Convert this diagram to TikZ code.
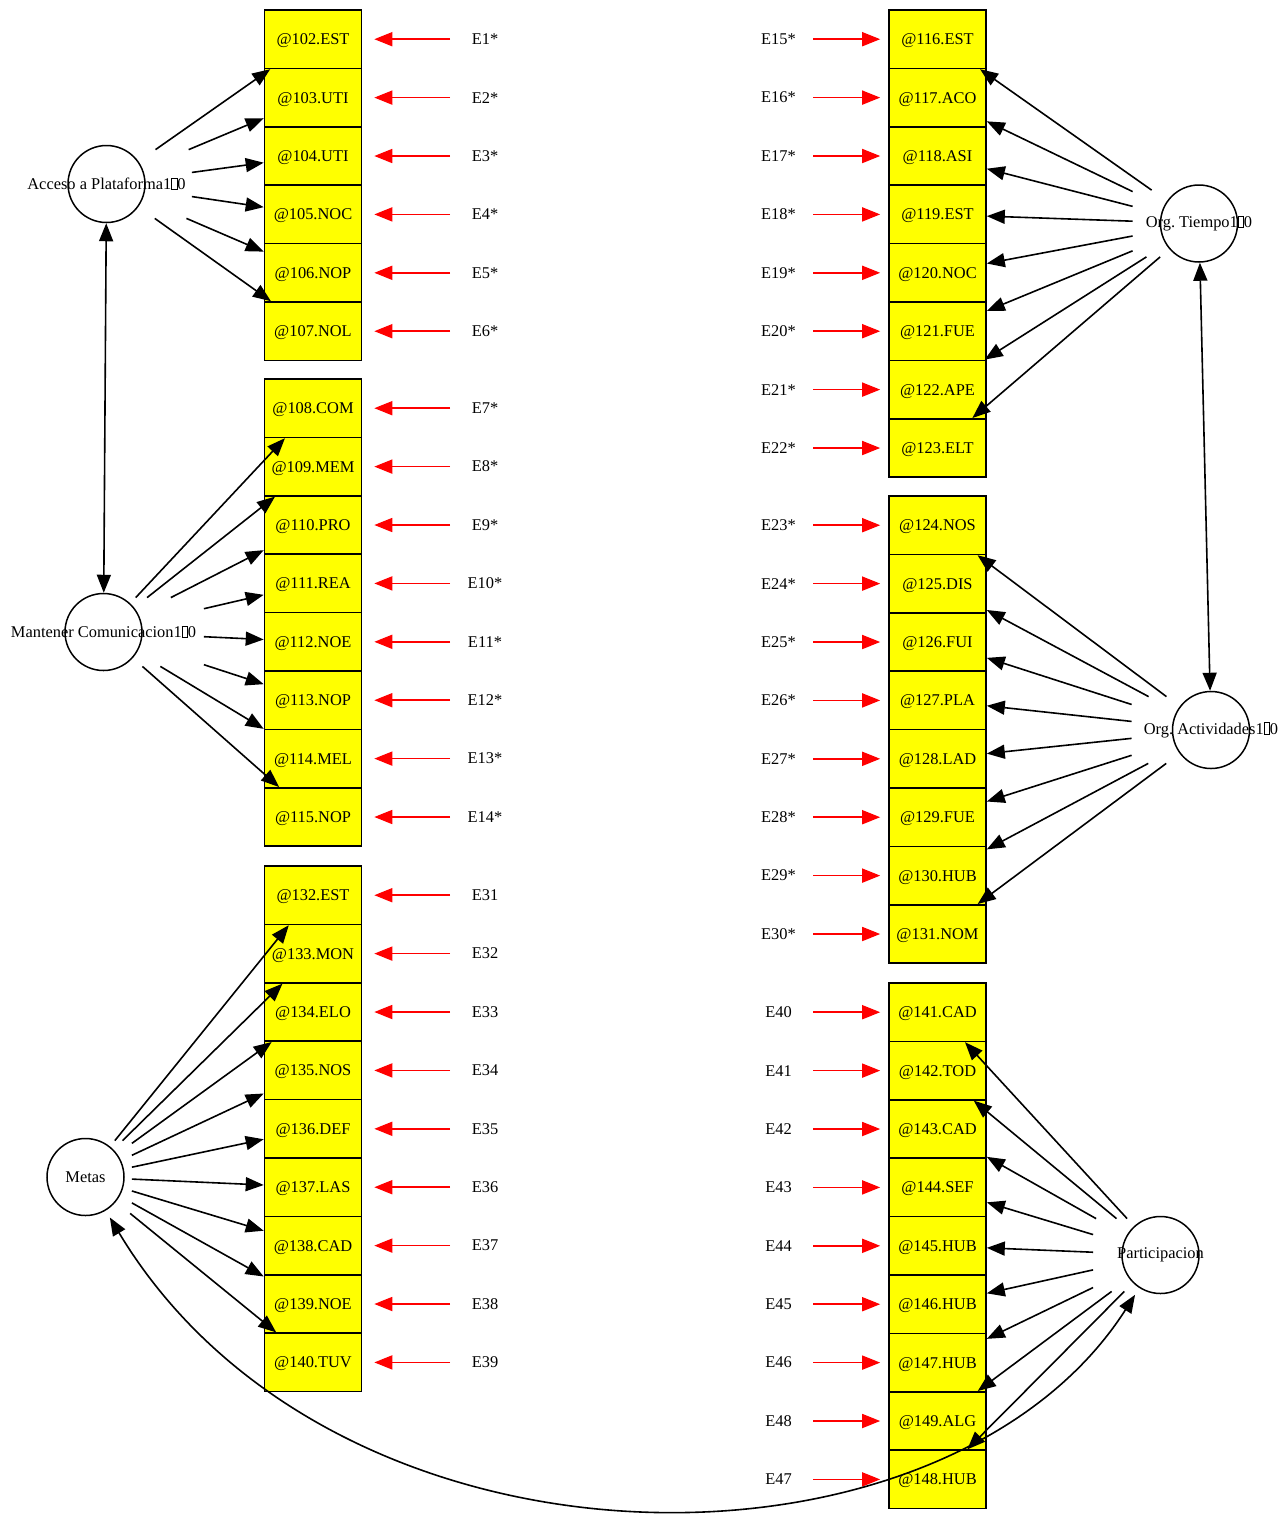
\documentclass[tikz,border=0pt]{standalone}
\usepackage{fontspec}
\setmainfont{Liberation Serif}
\usetikzlibrary{arrows.meta}
\definecolor{semyellow}{RGB}{255,255,0}
\definecolor{semred}{RGB}{255,0,0}
\newcommand{\nochar}{{\fboxsep=0pt\fboxrule=.3pt\fbox{\rule{0pt}{1.45ex}\hspace{.3em}}}}

\begin{document}
\begin{tikzpicture}[x=.5pt,y=-.5pt,font=\fontsize{8.2}{10}\selectfont,
    item/.style={draw,fill=semyellow,line width=.8pt,minimum width=48.5pt,
      minimum height=29.2pt,inner sep=0pt,text depth=0pt},
    latent/.style={circle,draw,line width=.75pt,minimum size=38.5pt,inner sep=0pt},
    factor/.style={inner sep=0pt},
    load/.style={-{Triangle[length=9pt,width=7pt]},line width=.8pt},
    errleft/.style={-{Triangle[length=9pt,width=7pt]},semred,line width=.85pt,
      shorten <=17.5pt,shorten >=6pt},
    errright/.style={-{Triangle[length=9pt,width=7pt]},semred,line width=.85pt,
      shorten <=17.25pt,shorten >=4pt},
    cov/.style={{Triangle[length=9pt,width=7pt]}-{Triangle[length=9pt,width=7pt]},
      line width=.8pt}]
    \useasboundingbox (0,0) rectangle (1279,1517);
    % Indicadores: columna izquierda y derecha, con sus errores.
    \foreach \ystart/\items in {39.2/{102/EST/E1*,103/UTI/E2*,104/UTI/E3*,105/NOC/E4*,
        106/NOP/E5*,107/NOL/E6*},
      408.2/{108/COM/E7*,109/MEM/E8*,110/PRO/E9*,111/REA/E10*,112/NOE/E11*,
        113/NOP/E12*,114/MEL/E13*,115/NOP/E14*},
      895.2/{132/EST/E31,133/MON/E32,134/ELO/E33,135/NOS/E34,136/DEF/E35,
        137/LAS/E36,138/CAD/E37,139/NOE/E38,140/TUV/E39}}{
      \foreach \num/\tag/\err [count=\k from 0] in \items{
        \node[item] (v\num) at (313,{\ystart+58.4*\k}) {@\num.\tag};
        \node (e\num) at (485,{\ystart+58.4*\k}) {\err};
        \draw[errleft] (e\num.center) -- (v\num.east);
      }
    }
    \foreach \ystart/\items in {39.2/{116/EST/E15*,117/ACO/E16*,118/ASI/E17*,119/EST/E18*,
        120/NOC/E19*,121/FUE/E20*,122/APE/E21*,123/ELT/E22*},
      525.2/{124/NOS/E23*,125/DIS/E24*,126/FUI/E25*,127/PLA/E26*,128/LAD/E27*,
        129/FUE/E28*,130/HUB/E29*,131/NOM/E30*},
      1012.2/{141/CAD/E40,142/TOD/E41,143/CAD/E42,144/SEF/E43,145/HUB/E44,
        146/HUB/E45,147/HUB/E46,149/ALG/E48,148/HUB/E47}}{
      \foreach \num/\tag/\err [count=\k from 0] in \items{
        \node[item] (v\num) at (937.5,{\ystart+58.4*\k}) {@\num.\tag};
        \node (e\num) at (778.5,{\ystart+58.4*\k}) {\err};
        \draw[errright] (e\num.center) -- (v\num.west);
      }
    }
    % Factores latentes
    \node[latent] (acc-c) at (106.5,184) {};
    \node[factor,minimum width=85pt,minimum height=34pt] (acc) at (acc-c)
      {Acceso a Plataforma1\nochar0};
    \node[latent] (man-c) at (103.5,632) {};
    \node[factor,minimum width=100pt,minimum height=34pt] (man) at (man-c)
      {Mantener Comunicacion1\nochar0};
    \node[latent] (met-c) at (85.5,1177) {};
    \node[factor,minimum width=46pt,minimum height=36pt] (met) at (met-c) {Metas};
    \node[latent] (tie-c) at (1199,223.5) {};
    \node[factor,minimum width=66pt,minimum height=33pt] (tie) at (tie-c)
      {Org.\ Tiempo1\nochar0};
    \node[latent] (act-c) at (1211,730) {};
    \node[factor,minimum width=79pt,minimum height=33pt] (act) at (act-c)
      {Org.\ Actividades1\nochar0};
    \node[latent] (par-c) at (1160.5,1255) {};
    \node[factor,minimum width=67pt,minimum height=36pt] (par) at (par-c)
      {Participacion};
    \foreach \num in {102,...,107} \draw[load] (acc) -- (v\num);
    \foreach \num in {108,...,115} \draw[load] (man) -- (v\num);
    \foreach \num in {132,...,140} \draw[load] (met) -- (v\num);
    \foreach \num in {116,...,123} \draw[load] (tie) -- (v\num);
    \foreach \num in {124,...,131} \draw[load] (act) -- (v\num);
    \foreach \num in {141,...,149} \draw[load] (par) -- (v\num);
    \draw[cov] (acc-c) -- (man-c);
    \draw[cov] (tie-c) -- (act-c);
    \draw[cov,shorten <=4pt,shorten >=4pt] (met-c)
      .. controls (335,1592) and (945,1592) .. (par-c);
  \end{tikzpicture}
\end{document}
